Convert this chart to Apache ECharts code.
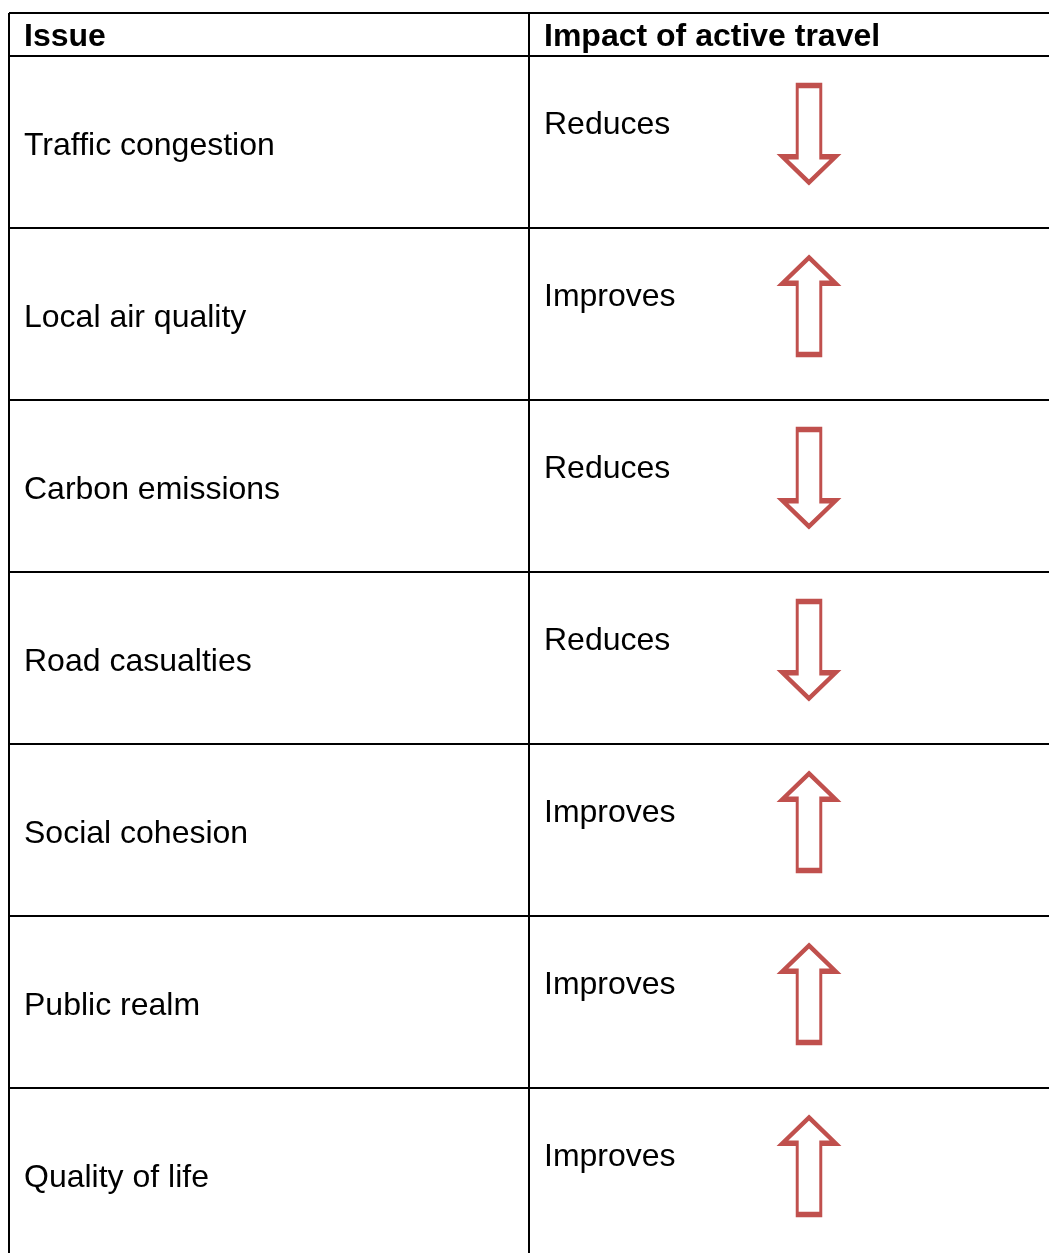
<!DOCTYPE html>
<html>
<head>
<meta charset="utf-8">
<title>Impact of active travel</title>
<script src="https://cdn.jsdelivr.net/npm/echarts@6/dist/echarts.min.js"></script>
<style>
  html, body { margin: 0; padding: 0; background: #fff; overflow: hidden; }
  /* the table runs past the bottom edge of the page, so the canvas is a bit taller */
  #table { width: 1050px; height: 1270px; }
</style>
</head>
<body>
<div id="table"></div>
<script>
// table content
var headers = ["Issue", "Impact of active travel"];
var issues = ["Traffic congestion", "Local air quality", "Carbon emissions", "Road casualties", "Social cohesion", "Public realm", "Quality of life"];
var impacts = ["Reduces", "Improves", "Reduces", "Reduces", "Improves", "Improves", "Improves"];
var directions = ["down", "up", "down", "down", "up", "up", "up"];

var FONT = "'Liberation Sans', Arial, sans-serif";
var RED = "#C0504D";
// up arrow outline, turned 180 deg for "down"
var ARROW = "path://M27 0 L54 26 L39 26 L39 98 L15 98 L15 26 L0 26 Z";

var myChart = echarts.init(document.getElementById("table"));

var gridLine = { show: true, lineStyle: { color: "#000", width: 2 } };

function colAxis(idx) {
  return {
    gridIndex: idx,
    type: "value",
    min: 0,
    max: 2,
    interval: 1,
    axisLine: { show: false },
    axisTick: { show: false },
    axisLabel: { show: false },
    splitLine: { show: true, showMaxLine: false, lineStyle: { color: "#000", width: 2 } }
  };
}

function rowAxis(idx, data) {
  return {
    gridIndex: idx,
    type: "category",
    inverse: true,
    data: data,
    axisLine: { show: false },
    axisTick: { show: false },
    axisLabel: { show: false },
    splitLine: gridLine
  };
}

var issueText = issues.map(function (name, i) { return { name: name, value: [0, i] }; });
var impactText = impacts.map(function (name, i) { return { name: name, value: [1, i] }; });
var arrows = directions.map(function (d, i) {
  return { value: [1, i], symbolRotate: d === "down" ? 180 : 0 };
});
var headText = headers.map(function (name, i) { return { name: name, value: [i, 0] }; });

var textLabel = {
  show: true,
  position: "right",
  distance: 15,
  formatter: "{b}",
  color: "#000000",
  opacity: 1,
  textBorderWidth: 0,
  fontFamily: FONT,
  fontSize: 32
};

var option = {
  animation: false,
  backgroundColor: "#fff",
  textStyle: { color: "#000000", fontFamily: FONT },
  grid: [
    { left: 9, top: 13, width: 1040, height: 43 },
    { left: 9, top: 56, width: 1040, height: 172 * issues.length }
  ],
  xAxis: [colAxis(0), colAxis(1)],
  yAxis: [rowAxis(0, ["header"]), rowAxis(1, issues)],
  series: [
    {
      name: "header",
      type: "scatter",
      xAxisIndex: 0,
      yAxisIndex: 0,
      symbolSize: 0,
      data: headText,
      label: Object.assign({}, textLabel, { fontWeight: "bold", offset: [0, 3] })
    },
    {
      name: "issue",
      type: "scatter",
      xAxisIndex: 1,
      yAxisIndex: 1,
      symbolSize: 0,
      data: issueText,
      label: Object.assign({}, textLabel, { offset: [0, 4] })
    },
    {
      name: "impact",
      type: "scatter",
      xAxisIndex: 1,
      yAxisIndex: 1,
      symbolSize: 0,
      data: impactText,
      label: Object.assign({}, textLabel, { offset: [0, -17] })
    },
    {
      name: "arrow",
      type: "scatter",
      xAxisIndex: 1,
      yAxisIndex: 1,
      symbol: ARROW,
      symbolSize: [53, 97],
      symbolOffset: [280, -8],
      data: arrows,
      itemStyle: { color: "#fff", borderColor: RED, borderWidth: 4, opacity: 1 }
    }
  ]
};

myChart.setOption(option);
</script>
</body>
</html>
